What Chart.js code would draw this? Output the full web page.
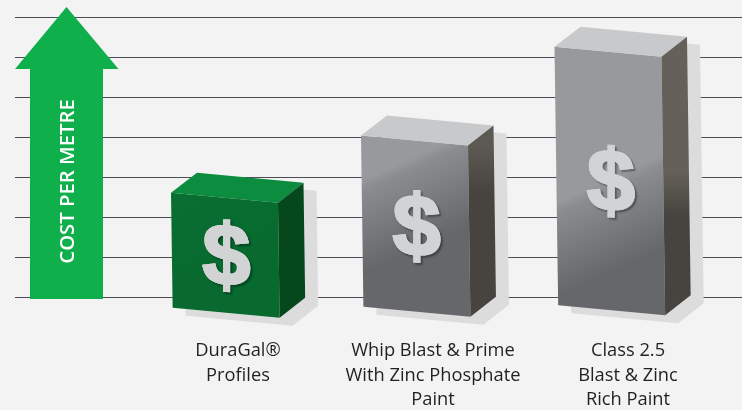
<!DOCTYPE html>
<html>
<head>
<meta charset="utf-8">
<style>
html,body{margin:0;padding:0;background:#f3f3f3;overflow:hidden}
canvas{display:block}
</style>
<script src="https://cdn.jsdelivr.net/npm/chart.js@4/dist/chart.umd.min.js"></script>
</head>
<body>
<canvas id="c" width="742" height="410"></canvas>
<script>
const categories = [['DuraGal®','Profiles'],['Whip Blast & Prime','With Zinc Phosphate','Paint'],['Class 2.5','Blast & Zinc','Rich Paint']];
const costValues = [2.98, 4.41, 6.63];
const gridTicks = [0,1,2,3,4,5,6,7];
const axisTitle = 'COST PER METRE';
const markSymbol = '$';

const frontLight = ['#096e32','#98999c','#98999c'];
const frontMid   = ['#096e32','#8b8c8f','#8b8c8f'];
const frontDark  = ['#086a2f','#66676a','#66676a'];
const topColors  = ['#0c8c3e','#c7c9cb','#c7c9cb'];
const sideLight  = ['#05481c','#5c5852','#65615a'];
const sideDark   = ['#05481c','#47443f','#47443f'];
const symbolColor = '#d1d3d4';
const shadowColor = '#dcdcdd';
const gridColor = '#4c4c54';
const arrowColor = '#0fb04c';
const boxNudge = [0,-5,-6.5];
const sheenLift = [120,132,109];

function poly(ctx, pts, fill){
  ctx.beginPath();
  pts.forEach((p,i)=> i ? ctx.lineTo(p[0],p[1]) : ctx.moveTo(p[0],p[1]));
  ctx.closePath();
  ctx.fillStyle = fill;
  ctx.fill();
}

class Box3DElement extends Chart.BarElement {
  static id = 'box3d';
  draw(ctx){
    const i = this.$context ? this.$context.dataIndex : 0;
    const yV = this.y, base = this.base;
    const h = base - yV;
    const L = this.x + boxNudge[i] - 67;
    const lean = h * 0.0138;
    const s = 13 - h / 55;
    const fTL=[L,yV+15], fTR=[L+107,yV+25], bL=[L+26,yV-5], bR=[L+132.5,yV+5];
    const fBL=[L+lean,base+s], fBR=[L+107+lean,base+s+10], bB=[L+132.5+lean,base+s-10];
    ctx.save();
    poly(ctx,[bL,bR,bB,fBR,fBL,fTL].map(p=>[p[0]+13,p[1]+8]),shadowColor);
    const cx=L+53.5, ey=base-sheenLift[i];
    const nx=0.41, ny=0.91, len=78;
    const g=ctx.createLinearGradient(cx-nx*8,ey-ny*8,cx+nx*len,ey+ny*len);
    g.addColorStop(0,frontLight[i]);
    g.addColorStop(0.12,frontMid[i]);
    g.addColorStop(1,frontDark[i]);
    poly(ctx,[fTL,fTR,fBR,fBL],g);
    poly(ctx,[fTL,bL,bR,fTR],topColors[i]);
    const sg=ctx.createLinearGradient(0,ey-18,0,ey+28);
    sg.addColorStop(0,sideLight[i]);
    sg.addColorStop(1,sideDark[i]);
    poly(ctx,[fTR,bR,bB,fBR],sg);
    ctx.font='bold 86px "Liberation Sans"';
    ctx.textAlign='center';
    ctx.textBaseline='alphabetic';
    const m=ctx.measureText(markSymbol);
    const mid=(m.actualBoundingBoxAscent-m.actualBoundingBoxDescent)/2;
    const dy=(yV+15+base+s+5)/2+2.5;
    ctx.setTransform(1,0.06,0,1,cx+lean/2+1,dy);
    ctx.shadowColor='rgba(0,0,0,0.4)';
    ctx.shadowOffsetX=2; ctx.shadowOffsetY=2; ctx.shadowBlur=2;
    ctx.fillStyle=symbolColor;
    ctx.strokeStyle=symbolColor;
    ctx.lineWidth=2.5;
    ctx.lineJoin='miter';
    ctx.miterLimit=3;
    ctx.strokeText(markSymbol,0,mid);
    ctx.shadowColor='transparent';
    ctx.fillText(markSymbol,0,mid);
    ctx.strokeText(markSymbol,0,mid);
    ctx.restore();
  }
}
class Box3DController extends Chart.BarController {
  static id = 'box3d';
  static defaults = Object.assign({}, Chart.BarController.defaults, {dataElementType:'box3d'});
  static overrides = Chart.BarController.overrides;
}
Chart.register(Box3DElement, Box3DController);

const backdrop = {
  id:'backdrop',
  beforeDatasetsDraw(chart){
    const ctx=chart.ctx, y=chart.scales.y;
    ctx.save();
    ctx.strokeStyle=gridColor;
    ctx.lineWidth=1.2;
    gridTicks.forEach(t=>{
      const py=y.getPixelForValue(t)+0.5;
      ctx.beginPath(); ctx.moveTo(15,py); ctx.lineTo(742,py); ctx.stroke();
    });
    const tip=y.getPixelForValue(7.25), neck=y.getPixelForValue(5.7), foot=y.getPixelForValue(-0.05);
    poly(ctx,[[66.5,tip],[118.5,neck],[103,neck],[103,foot],[30,foot],[30,neck],[15,neck]],arrowColor);
    ctx.translate(68,181.5);
    ctx.rotate(-Math.PI/2);
    ctx.font='600 20.3px "Open Sans"';
    ctx.textAlign='center';
    ctx.textBaseline='middle';
    ctx.fillStyle='#ffffff';
    ctx.fillText(axisTitle,0,0);
    ctx.restore();
  }
};

new Chart(document.getElementById('c'),{
  type:'box3d',
  data:{labels:categories,datasets:[{data:costValues,barThickness:107,backgroundColor:frontDark,clip:false}]},
  plugins:[backdrop],
  options:{
    responsive:false,
    devicePixelRatio:1,
    animation:false,
    layout:{padding:{top:17,left:140.5,right:16.5,bottom:0}},
    plugins:{legend:{display:false},tooltip:{enabled:false}},
    scales:{
      x:{
        type:'category',offset:true,
        grid:{display:false},border:{display:false},
        ticks:{color:'#231f20',font:{family:'"Open Sans"',size:18.3,lineHeight:1.36},padding:33,maxRotation:0,autoSkip:false},
        afterFit(s){s.height=113;}
      },
      y:{
        min:0,max:7,
        grid:{display:false},border:{display:false},
        ticks:{display:false,stepSize:1},
        afterFit(s){s.width=0;}
      }
    }
  }
});
</script>
</body>
</html>
